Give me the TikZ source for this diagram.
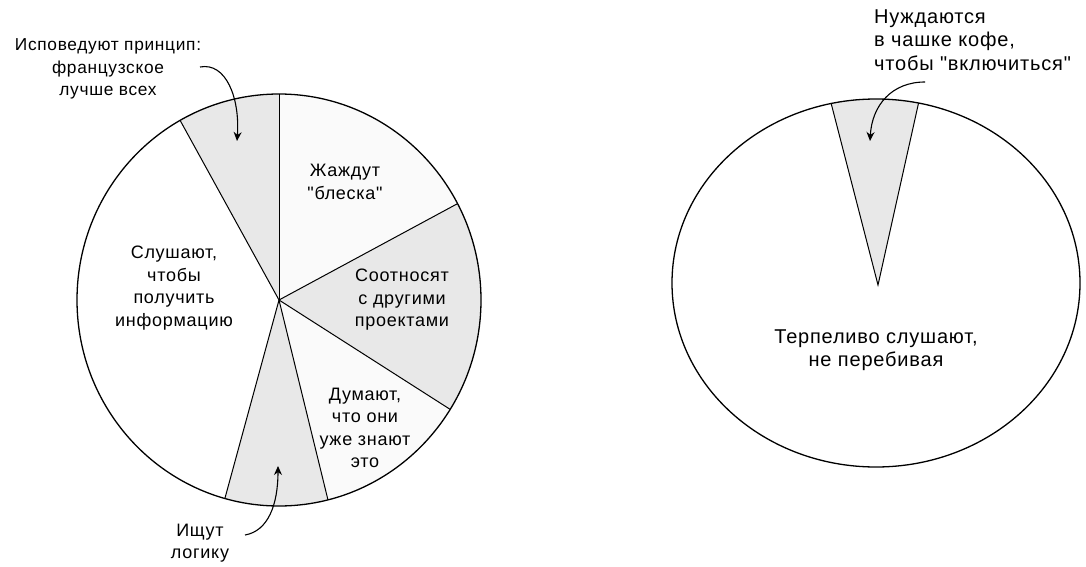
\documentclass[tikz,border=0pt]{standalone}
\usepackage{fontspec}
\setmainfont{Liberation Sans}[LetterSpace=4,Ligatures=TeXOff]
\usetikzlibrary{arrows.meta,calc}
\definecolor{greyfill}{HTML}{E8E8E8}
\definecolor{lightfill}{HTML}{FAFAFA}
\tikzset{
  lbl/.style={align=center,inner sep=0pt,font=\fontsize{18}{22.5}\selectfont},
  lblbig/.style={align=center,inner sep=0pt,font=\fontsize{20}{23.5}\selectfont},
  lblleft/.style={align=left,inner sep=0pt,font=\fontsize{20}{23.5}\selectfont},
  pointer/.style={line width=1.1pt,-{Stealth[length=9pt,width=8pt]}},
  rim/.style={line width=1.3pt},
  spoke/.style={line width=1pt}
}
\begin{document}
\begin{tikzpicture}[x=1pt,y=-1pt]
\useasboundingbox (0,0) rectangle (1086,567);
\fill[white] (0,0) rectangle (1086,567);
% ---------- left pie ----------
\coordinate (C) at (279,300);
\coordinate (pT) at (279,94);
\coordinate (pUL) at (181,122);
\coordinate (pUR) at (455,205);
\coordinate (pLR) at (448,408);
\coordinate (pB) at (328,500);
\coordinate (pBL) at (225,498);
\begin{scope}
  \clip (C) ellipse [x radius=202, y radius=206];
  \fill[lightfill] (C) -- ($(C)!1.5!(pT)$) -- ($(C)!1.5!(pUR)$) -- cycle;
  \fill[greyfill] (C) -- ($(C)!1.5!(pUL)$) -- ($(C)!1.5!(pT)$) -- cycle;
  \fill[greyfill] (C) -- ($(C)!1.5!(pUR)$) -- ($(C)+(300,0)$) -- ($(C)!1.5!(pLR)$) -- cycle;
  \fill[lightfill] (C) -- ($(C)!1.5!(pLR)$) -- ($(C)!1.5!(pB)$) -- cycle;
  \fill[greyfill] (C) -- ($(C)!1.5!(pB)$) -- ($(C)!1.5!(pBL)$) -- cycle;
  \foreach \p in {pT,pUL,pUR,pLR,pB,pBL}
    \draw[spoke] (C) -- ($(C)!1.2!(\p)$);
\end{scope}
\draw[rim] (C) ellipse [x radius=202, y radius=206];

\node[lbl,font=\fontsize{17.3}{22.5}\selectfont] (fr) at (108,69) {Исповедуют принцип:\\французское\\лучше всех};
\node[lbl] (gl) at (345,182) {Жаждут\\"блеска"};
\node[lbl] (inf) at (174,288) {Слушают,\\чтобы\\получить\\информацию};
\node[lbl] (pr) at (402,300) {Соотносят\\с другими\\проектами};
\node[lbl] (zn) at (365,428) {Думают,\\что они\\уже знают\\это};
\node[lbl] (lg) at (200,543) {Ищут\\логику};

\coordinate (a1s) at (200,67);
\coordinate (a1e) at (237,141);
\draw[pointer] (a1s) .. controls (226,62) and (240,98) .. (a1e);
\coordinate (a2s) at (245,535);
\coordinate (a2e) at (278,466);
\draw[pointer] (a2s) .. controls (268,531) and (278,505) .. (a2e);

% ---------- right pie ----------
\coordinate (D) at (876,283);
\coordinate (w0) at (878,285);
\coordinate (w1) at (830,99);
\coordinate (w2) at (919,101);
\begin{scope}
  \clip (D) ellipse [x radius=204, y radius=184];
  \fill[greyfill] (w0) -- ($(w0)!1.3!(w1)$) -- ($(w0)!1.3!(w2)$) -- cycle;
  \draw[spoke] ($(w0)!1.3!(w1)$) -- (w0) -- ($(w0)!1.3!(w2)$);
\end{scope}
\draw[rim] (D) ellipse [x radius=204, y radius=184];

\node[lblleft,anchor=west] (cof) at (874,40) {Нуждаются\\в чашке кофе,\\чтобы "включиться"};
\node[lblbig] (tp) at (876,350) {Терпеливо слушают,\\не перебивая};

\coordinate (a3s) at (925,82);
\coordinate (a3e) at (870,141);
\draw[pointer] (a3s) .. controls (892,82) and (872,105) .. (a3e);
\end{tikzpicture}
\end{document}
